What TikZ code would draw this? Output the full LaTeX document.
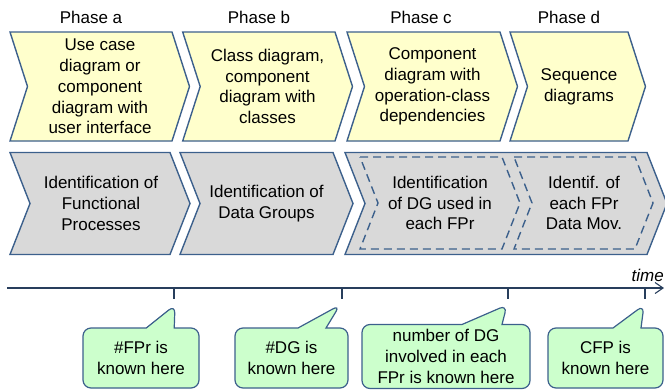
\documentclass[tikz,border=0pt]{standalone}
\usepackage{fontspec}
\setmainfont{Liberation Sans}
\usetikzlibrary{shapes.callouts,arrows.meta}
\definecolor{edgeblue}{RGB}{60,96,140}
\definecolor{modelyellow}{RGB}{255,255,204}
\definecolor{taskgrey}{RGB}{217,217,217}
\definecolor{notegreen}{RGB}{204,255,204}
\definecolor{axisblue}{RGB}{40,62,92}

\begin{document}
\begin{tikzpicture}[x=1pt, y=-1pt,
      every node/.style = {font=\fontsize{17}{20.8}\selectfont, align=center, inner sep=0pt},
      model/.style = {draw=edgeblue, line width=1.4pt, fill=modelyellow},
      task/.style = {draw=edgeblue, line width=1.4pt, fill=taskgrey},
      subtask/.style = {draw=edgeblue, line width=1.4pt, dash pattern=on 8pt off 5pt},
      axisline/.style = {draw=axisblue, line width=1.1pt},
      note/.style = {rectangle callout, draw=edgeblue, line width=1.2pt, fill=notegreen,
        rounded corners=8pt, minimum height=60pt, callout pointer width=28pt}]
  \useasboundingbox (0,0) rectangle (665,389);
  \foreach \l/\r in {10/172, 182.7/335, 347/500, 510/628}
    \draw[model] (\l,32) -- (\r,32) -- (\r+17.5,86.5) -- (\r,141) -- (\l,141) -- (\l+17.5,86.5) -- cycle;
  \foreach \l/\r in {10/170, 180/333, 345/647}
    \draw[task] (\l,152.5) -- (\r,152.5) -- (\r+20,203.5) -- (\r,254.5) -- (\l,254.5) -- (\l+20,203.5) -- cycle;
  \foreach \l/\r in {360/502, 514/635}
    \draw[subtask] (\l,157) -- (\r,157) -- (\r+18,203) -- (\r,249) -- (\l,249) -- (\l+18,203) -- cycle;
  \node (pa) at (91,17) {Phase a};
  \node (pb) at (259,17) {Phase b};
  \node (pc) at (421,17) {Phase c};
  \node (pd) at (569,17) {Phase d};
  \node (usecase) at (100,86.5) {Use case\\diagram or\\component\\diagram with\\user interface};
  \node (classes) at (267.5,86.5) {Class diagram,\\component\\diagram with\\classes};
  \node (component) at (432.5,86.5) {Component\\diagram with\\operation-class\\dependencies};
  \node (sequence) at (579,86.5) {Sequence\\diagrams};
  \node (idfp) at (101,203.5) {Identification of\\Functional\\Processes};
  \node (iddg) at (266.5,203.5) {Identification of\\Data Groups};
  \node (iddgfp) at (440,203) {Identification\\of DG used in\\each FPr};
  \node (iddm) at (584,203) {Identif. of\\each FPr\\Data Mov.};
  \coordinate (start) at (7,288);
  \coordinate (end) at (664,288);
  \draw[axisline, -{Straight Barb[length=8pt,width=11pt]}] (start) -- (end);
  \node[anchor=east, font=\fontsize{17}{20.8}\selectfont\itshape] (time) at (664,275) {time};
  \foreach \k/\x in {k1/174, k2/342, k3/508, k4/645} {
    \coordinate (\k) at (\x,288);
    \draw[axisline] (\k) -- ++(0,11);
  }
  \node[note, minimum width=116pt, callout absolute pointer={(175,305)}] (fpr) at (141,358) {\#FPr is\\known here};
  \node[note, minimum width=113pt, callout absolute pointer={(340,305)}] (dg) at (291.5,358) {\#DG is\\known here};
  \node[note, minimum width=168pt, minimum height=64pt, callout pointer width=40pt,
    callout absolute pointer={(507,305)}] (dgfpr) at (446,356.5) {number of DG\\involved in each\\FPr is known here};
  \node[note, minimum width=115pt, callout absolute pointer={(644,305)}] (cfp) at (605.5,358) {CFP is\\known here};
\end{tikzpicture}
\end{document}
